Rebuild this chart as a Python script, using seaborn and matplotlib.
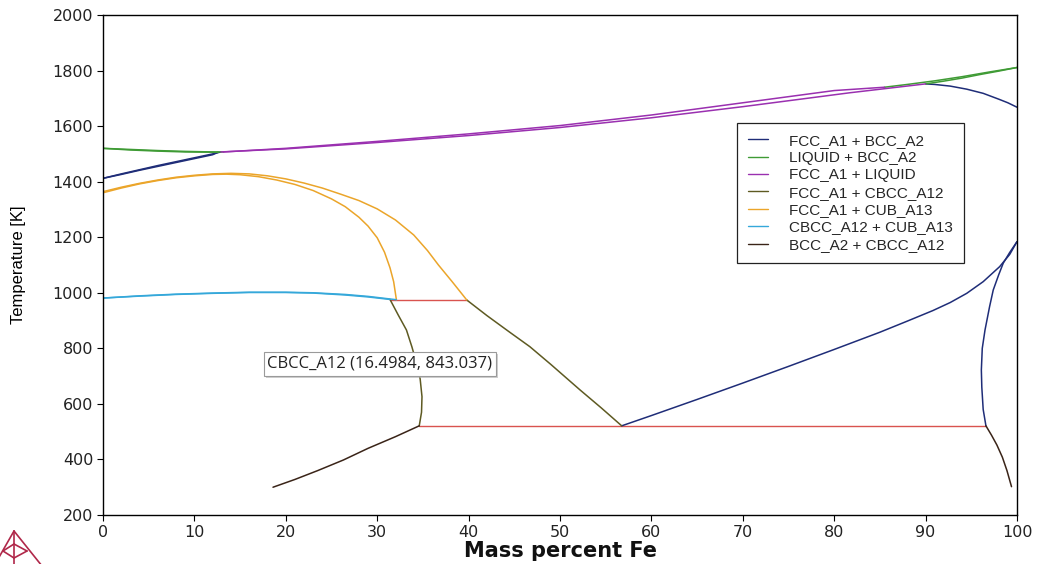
import numpy as np
import pandas as pd
import matplotlib
matplotlib.use("Agg")
import matplotlib.pyplot as plt
from matplotlib.lines import Line2D
from matplotlib import patheffects as pe
import seaborn as sns

# ---------------------------------------------------------------- data
# Phase boundaries of the Fe-Mn system: mass percent Fe vs temperature [K]

# LIQUID + BCC_A2
liq_bcc_mn_liq_x = [0, 3, 6, 9, 12, 13.2]
liq_bcc_mn_liq_t = [1520, 1516, 1512, 1509, 1507, 1507]
liq_bcc_mn_sol_x = [0, 3, 6, 9, 12.6]
liq_bcc_mn_sol_t = [1520, 1514, 1510, 1507, 1506]
liq_bcc_fe_liq_x = [85.5, 88, 91, 94, 97, 100]
liq_bcc_fe_liq_t = [1740, 1750, 1763, 1778, 1795, 1811]
liq_bcc_fe_sol_x = [90, 92, 94, 96, 98, 100]
liq_bcc_fe_sol_t = [1752, 1762, 1773, 1786, 1798, 1811]

# FCC_A1 + LIQUID
fcc_liq_liq_x = [13.2, 20, 30, 40, 50, 60, 70, 80, 85.5]
fcc_liq_liq_t = [1507, 1520, 1545, 1572, 1602, 1640, 1684, 1728, 1740]
fcc_liq_sol_x = [12.9, 20, 30, 40, 50, 60, 70, 81.7, 90]
fcc_liq_sol_t = [1507, 1518, 1541, 1566, 1595, 1630, 1670, 1720, 1752]

# FCC_A1 + BCC_A2
fcc_bcc_mn_a_x = [0, 2, 4, 6, 8, 10, 12, 12.9]
fcc_bcc_mn_a_t = [1412, 1428, 1443, 1458, 1472, 1486, 1500, 1507]
fcc_bcc_mn_b_x = [0, 2, 4, 6, 8, 10, 12, 12.6]
fcc_bcc_mn_b_t = [1412, 1426, 1441, 1455, 1469, 1483, 1497, 1506]
fcc_bcc_fe_top_x = [90, 91, 92.7, 94.5, 96.3, 98, 99, 100]
fcc_bcc_fe_top_t = [1752, 1750, 1744, 1733, 1718, 1697, 1684, 1668]
fcc_bcc_loop_a_x = [56.75, 60, 65, 70, 75, 80, 85, 88, 90.8, 92.7, 94.5, 96.3, 98.1, 99.2, 100]
fcc_bcc_loop_a_t = [521, 558, 616, 675, 735, 796, 858, 898, 936, 965, 998, 1040, 1094, 1138, 1184]
fcc_bcc_loop_b_x = [96.6, 96.3, 96.15, 96.1, 96.2, 96.5, 97.0, 97.4, 98.0, 98.5, 99.2, 100]
fcc_bcc_loop_b_t = [521, 580, 660, 722, 800, 866, 950, 1010, 1065, 1107, 1145, 1184]

# FCC_A1 + CBCC_A12
fcc_cbcc_a_x = [31.4, 32.3, 33.2, 33.8, 34.3, 34.7, 34.9, 34.85, 34.6]
fcc_cbcc_a_t = [976, 920, 866, 805, 747, 690, 626, 570, 521]
fcc_cbcc_b_x = [39.8, 42, 44.5, 46.7, 49, 52.2, 54.5, 56.75]
fcc_cbcc_b_t = [974, 918, 858, 806, 742, 650, 586, 521]

# FCC_A1 + CUB_A13
fcc_cub_fcc_x = [0, 2, 4, 6, 8, 10, 12, 14, 16, 18, 20, 22, 24, 26, 28, 30, 32, 34, 35.5, 36.7, 38.2, 39.8]
fcc_cub_fcc_t = [1364, 1380, 1394, 1406, 1416, 1423, 1428, 1430, 1428, 1421, 1410, 1395, 1377, 1355, 1332, 1302, 1262, 1208, 1152, 1100, 1040, 974]
fcc_cub_cub_x = [0, 2, 4, 6, 8, 10, 12, 13.5, 15, 17, 19, 21, 23, 25, 26.5, 28, 29, 30, 30.8, 31.4, 31.8, 32.1]
fcc_cub_cub_t = [1360, 1377, 1392, 1404, 1414, 1421, 1426, 1427, 1425, 1418, 1406, 1390, 1368, 1338, 1310, 1272, 1240, 1198, 1146, 1090, 1040, 975]

# CBCC_A12 + CUB_A13
cbcc_cub_a_x = [0, 4, 8, 12, 16, 20, 23, 26.5, 29, 31.4]
cbcc_cub_a_t = [981, 988, 994, 998, 1001, 1001, 999, 992, 985, 976]
cbcc_cub_b_x = [0, 4, 8, 12, 16, 20, 23, 26.5, 29, 32.1]
cbcc_cub_b_t = [981, 989, 995, 999, 1002, 1002, 1000, 994, 987, 975]

# BCC_A2 + CBCC_A12
bcc_cbcc_mn_x = [34.6, 32, 29, 26.3, 23.5, 21, 18.6]
bcc_cbcc_mn_t = [521, 482, 440, 398, 360, 328, 300]
bcc_cbcc_fe_x = [96.6, 97.2, 97.8, 98.4, 98.9, 99.4]
bcc_cbcc_fe_t = [521, 488, 452, 408, 360, 302]

# Three-phase tie lines
tie_x = [[31.4, 39.8], [34.6, 96.6]]
tie_t = [[975, 975], [521, 521]]

regions = ["FCC_A1 + BCC_A2", "LIQUID + BCC_A2", "FCC_A1 + LIQUID",
           "FCC_A1 + CBCC_A12", "FCC_A1 + CUB_A13", "CBCC_A12 + CUB_A13",
           "BCC_A2 + CBCC_A12"]
region_colors = ["#1f2d78", "#3f9b35", "#9a30b0", "#5e5a22",
                 "#eba52a", "#35a8da", "#3a2418"]
tie_color = "#d9534f"

point_label = "CBCC_A12 (16.4984, 843.037)"

# ---------------------------------------------------------------- tables
segments = [
    ("LIQUID + BCC_A2", liq_bcc_mn_liq_x, liq_bcc_mn_liq_t),
    ("LIQUID + BCC_A2", liq_bcc_mn_sol_x, liq_bcc_mn_sol_t),
    ("LIQUID + BCC_A2", liq_bcc_fe_liq_x, liq_bcc_fe_liq_t),
    ("LIQUID + BCC_A2", liq_bcc_fe_sol_x, liq_bcc_fe_sol_t),
    ("FCC_A1 + LIQUID", fcc_liq_liq_x, fcc_liq_liq_t),
    ("FCC_A1 + LIQUID", fcc_liq_sol_x, fcc_liq_sol_t),
    ("FCC_A1 + BCC_A2", fcc_bcc_mn_a_x, fcc_bcc_mn_a_t),
    ("FCC_A1 + BCC_A2", fcc_bcc_mn_b_x, fcc_bcc_mn_b_t),
    ("FCC_A1 + BCC_A2", fcc_bcc_fe_top_x, fcc_bcc_fe_top_t),
    ("FCC_A1 + BCC_A2", fcc_bcc_loop_a_x, fcc_bcc_loop_a_t),
    ("FCC_A1 + BCC_A2", fcc_bcc_loop_b_x, fcc_bcc_loop_b_t),
    ("FCC_A1 + CBCC_A12", fcc_cbcc_a_x, fcc_cbcc_a_t),
    ("FCC_A1 + CBCC_A12", fcc_cbcc_b_x, fcc_cbcc_b_t),
    ("FCC_A1 + CUB_A13", fcc_cub_fcc_x, fcc_cub_fcc_t),
    ("FCC_A1 + CUB_A13", fcc_cub_cub_x, fcc_cub_cub_t),
    ("CBCC_A12 + CUB_A13", cbcc_cub_a_x, cbcc_cub_a_t),
    ("CBCC_A12 + CUB_A13", cbcc_cub_b_x, cbcc_cub_b_t),
    ("BCC_A2 + CBCC_A12", bcc_cbcc_mn_x, bcc_cbcc_mn_t),
    ("BCC_A2 + CBCC_A12", bcc_cbcc_fe_x, bcc_cbcc_fe_t),
]
frames = []
for i, (reg, xs, ts) in enumerate(segments):
    frames.append(pd.DataFrame({"region": reg, "seg": i, "Fe": xs, "T": ts}))
df = pd.concat(frames, ignore_index=True)

tie_df = pd.concat(
    [pd.DataFrame({"seg": i, "Fe": xs, "T": ts}) for i, (xs, ts) in enumerate(zip(tie_x, tie_t))],
    ignore_index=True)

# ---------------------------------------------------------------- figure
sns.set_theme(style="white")
plt.rcParams["font.family"] = ["DejaVu Sans"]

W, H = 1041, 564
fig = plt.figure(figsize=(W / 100, H / 100), dpi=100)
fig.patch.set_facecolor("white")
ax = fig.add_axes([103 / W, 1 - 515 / H, 914 / W, 500 / H])

sns.lineplot(data=tie_df, x="Fe", y="T", units="seg", estimator=None, sort=False,
             color=tie_color, lw=1.0, legend=False, ax=ax)
sns.lineplot(data=df, x="Fe", y="T", hue="region", hue_order=regions,
             palette=dict(zip(regions, region_colors)), units="seg",
             estimator=None, sort=False, lw=1.1, ax=ax)

ax.set_xlim(0, 100)
ax.set_ylim(200, 2000)
ax.set_xticks(np.arange(0, 101, 10))
ax.set_yticks(np.arange(200, 2001, 200))
for s in ax.spines.values():
    s.set_color("black")
    s.set_linewidth(1.0)
ax.tick_params(axis="both", direction="out", length=4, width=0.8, color="black",
               labelsize=11.5, labelcolor="#222222", pad=3, left=True, bottom=True)

ax.set_xlabel("Mass percent Fe", fontsize=15, fontweight="bold", color="#111111",
              labelpad=1)
ax.set_ylabel("Temperature [K]", fontsize=12, family="Liberation Sans",
              color="black", labelpad=19)

handles, labels = ax.get_legend_handles_labels()
leg = ax.legend(handles, labels, loc="upper left", bbox_to_anchor=(0.6937, 0.784),
                borderaxespad=0, frameon=True, fancybox=False, edgecolor="#222222",
                framealpha=1, prop={"family": "Liberation Sans", "size": 11},
                handlelength=1.35, handletextpad=1.35, labelspacing=0.22,
                borderpad=0.7)
leg.get_frame().set_linewidth(0.9)
for line in leg.get_lines():
    line.set_linewidth(1.0)

txt = ax.text(30.3, 744, point_label, ha="center", va="center", fontsize=12,
              family="Open Sans", color="#222222",
              bbox=dict(boxstyle="square,pad=0.22", fc="white", ec="#9a9a9a", lw=0.8))
txt.get_bbox_patch().set_path_effects(
    [pe.SimplePatchShadow(offset=(1.5, -1.5), shadow_rgbFace="#b0b0b0", alpha=0.6),
     pe.Normal()])

# small wire-frame pyramid emblem in the lower left corner
logo = "#b0284a"
def fig_line(p, q):
    fig.add_artist(Line2D([p[0] / W, q[0] / W], [1 - p[1] / H, 1 - q[1] / H],
                          transform=fig.transFigure, color=logo, lw=1.2))
apex = (14, 531)
fig_line(apex, (-6, 566))
fig_line(apex, (42, 566))
fig_line(apex, (14, 566))
fig_line((3, 551), (14, 544))
fig_line((14, 544), (27, 551))
fig_line((3, 551), (14, 558))
fig_line((14, 558), (27, 551))

fig.savefig("out.png", dpi=100, facecolor="white")
